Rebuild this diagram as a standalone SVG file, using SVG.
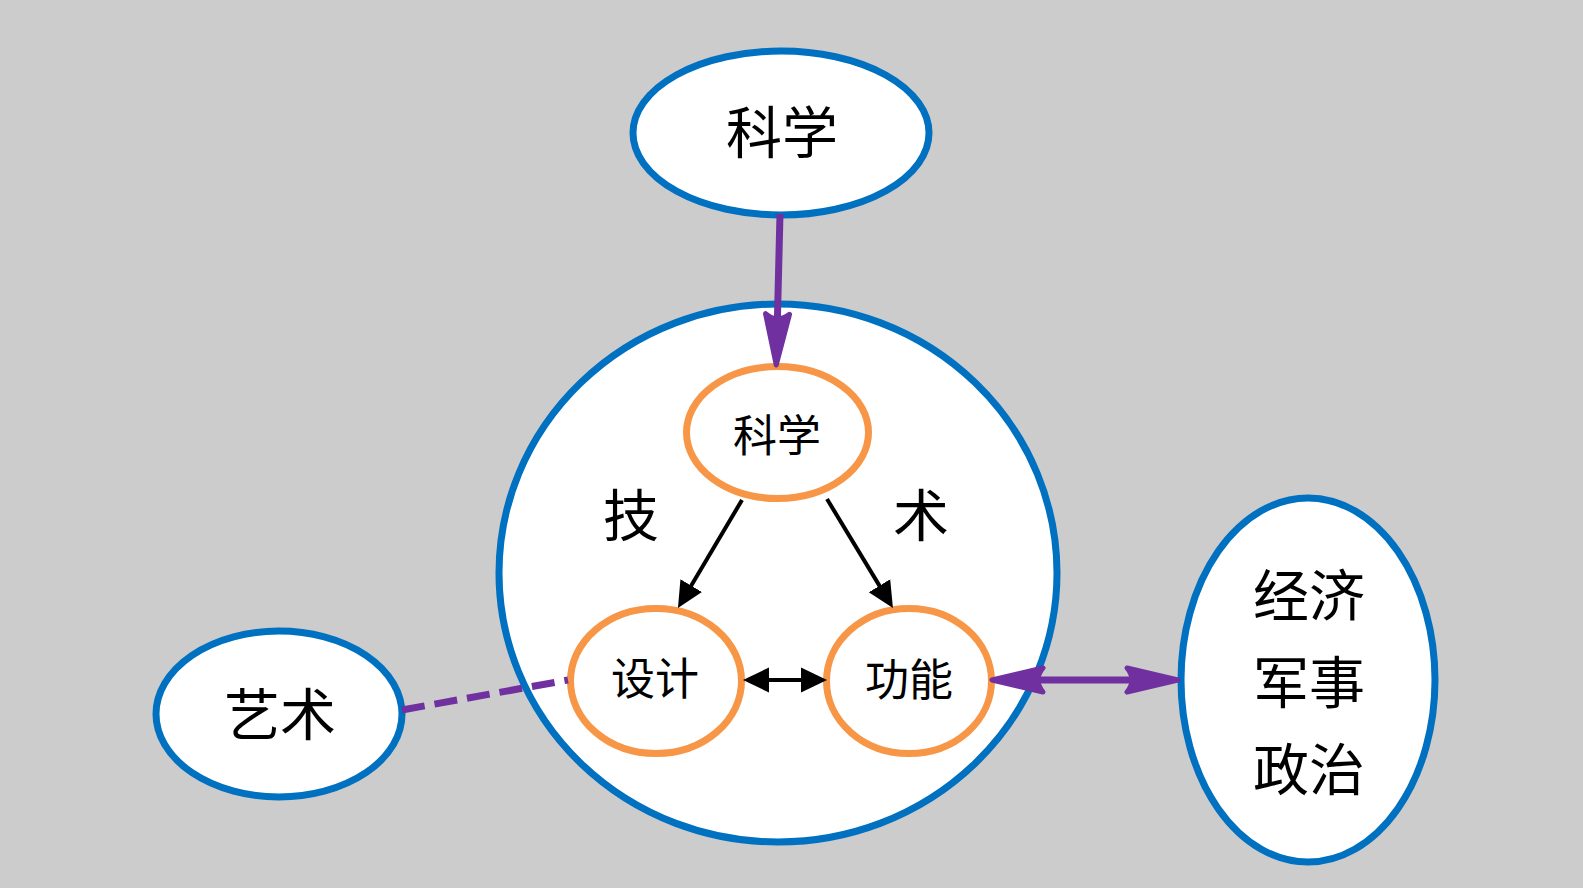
<svg xmlns="http://www.w3.org/2000/svg" width="1583" height="888" viewBox="0 0 1583 888">
  <style>
    .outer { fill: #ffffff; stroke: #0070C0; stroke-width: 7; }
    .inner { fill: #ffffff; stroke: #F79646; stroke-width: 7; }
    .label { font-family: "Noto Sans CJK SC", "Noto Sans", sans-serif; fill: #000000; text-anchor: middle; }
    .big { font-size: 56px; }
    .small { font-size: 44px; }
    .link-purple { stroke: #7030A0; stroke-width: 7; fill: none; }
    .link-black { stroke: #000000; stroke-width: 4; fill: none; }
  </style>
  <defs>
    <marker id="headPurple" markerUnits="userSpaceOnUse" viewBox="0 -16 58 32" markerWidth="58" markerHeight="32" refX="8" refY="0" orient="auto-start-reverse">
      <path d="M54,0 L3,-12 Q13,0 3,12 Z" fill="#7030A0" stroke="#7030A0" stroke-width="5" stroke-linejoin="round"/>
    </marker>
    <marker id="headBlack" markerUnits="userSpaceOnUse" viewBox="0 -13 27 26" markerWidth="27" markerHeight="26" refX="1" refY="0" orient="auto-start-reverse">
      <path d="M0,-12.5 L26,0 L0,12.5 Z" fill="#000000"/>
    </marker>
  </defs>

  <rect x="0" y="0" width="1583" height="888" fill="#CCCCCC"/>

  <!-- technology circle -->
  <g id="technology">
    <ellipse class="outer" cx="778" cy="573" rx="279" ry="269" stroke-width="8"/>
    <text class="label big" x="631" y="536">技</text>
    <text class="label big" x="921" y="536">术</text>
  </g>

  <g id="science-top">
    <ellipse class="outer" cx="781" cy="133" rx="148" ry="82"/>
    <text class="label big" x="782" y="153">科学</text>
  </g>

  <g id="art">
    <ellipse class="outer" cx="279" cy="714" rx="123" ry="83"/>
    <text class="label big" x="280" y="735">艺术</text>
  </g>

  <g id="society">
    <ellipse class="outer" cx="1308" cy="680" rx="127" ry="182"/>
    <text class="label big" x="1309" y="616">经济</text>
    <text class="label big" x="1309" y="703">军事</text>
    <text class="label big" x="1309" y="790">政治</text>
  </g>

  <g id="science-inner">
    <ellipse class="inner" cx="777.5" cy="432.5" rx="91" ry="66"/>
    <text class="label small" x="777" y="452">科学</text>
  </g>

  <g id="design">
    <ellipse class="inner" cx="656" cy="681" rx="85.5" ry="72.5"/>
    <text class="label small" x="655" y="695">设计</text>
  </g>

  <g id="function">
    <ellipse class="inner" cx="909" cy="681" rx="82.5" ry="72.5"/>
    <text class="label small" x="909" y="696">功能</text>
  </g>

  <g id="connectors">
    <line class="link-purple" x1="780" y1="214" x2="777.4" y2="319" marker-end="url(#headPurple)"/>
    <line class="link-purple" x1="1038" y1="680" x2="1132" y2="680" marker-start="url(#headPurple)" marker-end="url(#headPurple)"/>
    <line class="link-purple" x1="402" y1="710" x2="568" y2="680" stroke-dasharray="23 10"/>
    <line class="link-black" x1="742" y1="500" x2="690.7" y2="586.5" marker-end="url(#headBlack)"/>
    <line class="link-black" x1="827" y1="499" x2="880" y2="586.6" marker-end="url(#headBlack)"/>
    <line class="link-black" x1="768" y1="680" x2="802" y2="680" marker-start="url(#headBlack)" marker-end="url(#headBlack)"/>
  </g>
</svg>
